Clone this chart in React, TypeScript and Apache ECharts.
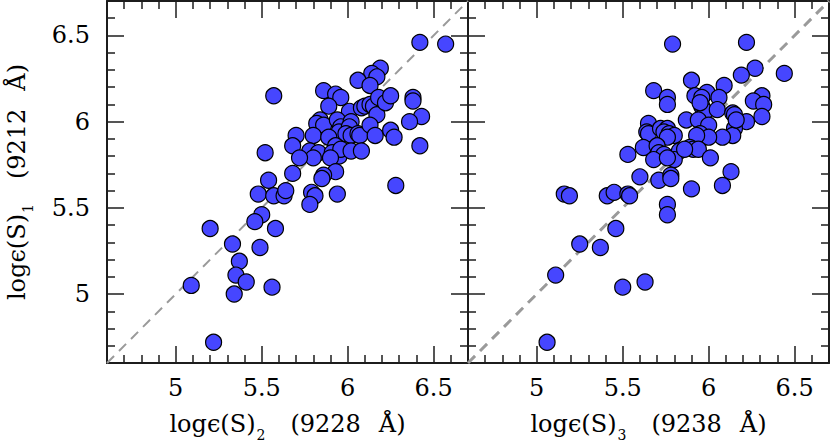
import { useEffect, useRef } from 'react';
import * as echarts from 'echarts';

const axisRange = [4.6, 6.7];
const majorTicks = [5, 5.5, 6, 6.5];
const minorTicks = [4.7, 4.8, 4.9, 5.1, 5.2, 5.3, 5.4, 5.6, 5.7, 5.8, 5.9, 6.1, 6.2, 6.3, 6.4, 6.6];
const identityLine = [4.6, 6.7];

// Left panel: logeps(S)_2 (9228 A) vs logeps(S)_1 (9212 A)
const leftX = [6.42, 6.57, 6.19, 6.14, 6.17, 6.06, 6.13, 5.86, 5.93, 5.96, 5.57, 5.89, 6.01, 6.08, 6.10, 6.13, 6.15, 6.17, 6.18, 6.22, 6.25, 6.38, 6.38, 6.43, 6.36, 6.42, 6.28, 5.84, 5.82, 5.86, 5.94, 5.96, 5.95, 6.02, 6.01, 5.99, 6.02, 6.06, 6.07, 6.13, 6.16, 6.25, 6.27, 5.80, 5.70, 5.68, 5.89, 5.78, 5.83, 5.80, 5.93, 5.91, 5.95, 5.96, 6.02, 6.08, 5.72, 5.90, 5.93, 5.68, 5.86, 5.85, 5.52, 5.54, 5.48, 5.57, 5.63, 5.64, 5.79, 5.81, 5.78, 5.94, 5.50, 5.46, 5.58, 5.20, 5.33, 5.49, 5.37, 5.35, 5.41, 5.09, 5.34, 5.56, 5.22];
const leftY = [6.46, 6.45, 6.31, 6.28, 6.26, 6.24, 6.21, 6.18, 6.16, 6.14, 6.15, 6.09, 6.06, 6.08, 6.09, 6.10, 6.09, 6.04, 6.14, 6.11, 6.15, 6.14, 6.12, 6.03, 6.00, 5.86, 5.63, 6.01, 5.99, 5.98, 6.01, 5.97, 5.94, 6.00, 5.97, 5.93, 5.92, 5.93, 5.92, 5.98, 5.92, 5.95, 5.91, 5.92, 5.92, 5.86, 5.91, 5.83, 5.82, 5.79, 5.86, 5.82, 5.80, 5.84, 5.83, 5.83, 5.79, 5.79, 5.71, 5.70, 5.69, 5.67, 5.82, 5.66, 5.58, 5.57, 5.57, 5.60, 5.59, 5.57, 5.52, 5.58, 5.46, 5.42, 5.38, 5.38, 5.29, 5.27, 5.19, 5.11, 5.07, 5.05, 5.00, 5.04, 4.72];

// Right panel: logeps(S)_3 (9238 A) vs logeps(S)_1 (9212 A)
const rightX = [5.79, 6.22, 6.27, 6.19, 6.44, 5.90, 6.09, 5.68, 5.76, 5.76, 5.92, 5.99, 5.96, 5.96, 5.98, 6.06, 6.05, 6.31, 6.26, 6.32, 6.31, 6.14, 6.15, 6.22, 6.15, 6.14, 6.08, 5.87, 5.94, 6.00, 5.95, 6.00, 5.93, 5.65, 5.64, 5.65, 5.72, 5.76, 5.74, 5.77, 5.80, 5.76, 5.62, 5.70, 5.71, 5.74, 5.68, 5.83, 5.89, 5.91, 5.94, 5.80, 6.01, 5.53, 5.60, 5.71, 5.78, 5.78, 6.13, 5.90, 6.08, 5.16, 5.19, 5.41, 5.45, 5.53, 5.54, 5.76, 5.76, 5.46, 5.25, 5.37, 5.11, 5.50, 5.63, 5.06, 5.95, 6.16, 5.76, 5.86];
const rightY = [6.45, 6.46, 6.31, 6.27, 6.28, 6.24, 6.21, 6.18, 6.14, 6.10, 6.15, 6.17, 6.14, 6.09, 6.06, 6.14, 6.07, 6.15, 6.12, 6.10, 6.03, 6.05, 6.04, 6.00, 5.96, 5.92, 5.91, 6.01, 6.01, 5.98, 5.93, 5.91, 5.92, 5.99, 5.94, 5.93, 5.96, 5.96, 5.94, 5.93, 5.92, 5.91, 5.85, 5.86, 5.82, 5.81, 5.78, 5.83, 5.85, 5.84, 5.84, 5.78, 5.79, 5.81, 5.68, 5.66, 5.69, 5.67, 5.71, 5.61, 5.63, 5.58, 5.57, 5.57, 5.59, 5.58, 5.57, 5.52, 5.46, 5.38, 5.29, 5.27, 5.11, 5.04, 5.07, 4.72, 6.11, 6.01, 5.79, 5.84];

const FONT = 'DejaVu Serif';
const INK = '#1c1c1c';

const titleStyle = {
  fontFamily: FONT,
  fontSize: 24,
  color: '#000',
  lineHeight: 44,
  rich: {
    a: { fontFamily: FONT, fontSize: 24, lineHeight: 44, color: '#000' },
    s: { fontFamily: FONT, fontSize: 14, lineHeight: 14, padding: [22, 0, 0, 1], color: '#000' },
    b: { fontFamily: FONT, fontSize: 24, lineHeight: 44, padding: [0, 0, 0, 25], color: '#000' },
  },
};

function axisSet(gridIndex: number, isX: boolean, name: string | null, showLabels: boolean) {
  const positions = isX ? ['bottom', 'top'] : ['left', 'right'];
  const base = {
    type: 'value',
    gridIndex,
    min: axisRange[0],
    max: axisRange[1],
    splitLine: { show: false },
    minorTick: { show: false },
    axisLine: { show: false, onZero: false },
    axisLabel: { show: false },
    axisTick: { show: false },
    nameMoveOverlap: false,
  };
  const out: any[] = [];
  positions.forEach((p, i) => {
    const major: any = {
      ...base,
      position: p,
      axisLine: { show: true, onZero: false, lineStyle: { color: INK, width: 2 } },
      axisTick: { show: true, inside: true, length: 17, customValues: majorTicks, lineStyle: { color: INK, width: 1.5 } },
    };
    if (i === 0 && showLabels) {
      major.axisLabel = {
        show: true,
        customValues: majorTicks,
        margin: isX ? 13 : 17,
        fontFamily: FONT,
        fontSize: 24,
        color: '#000',
      };
    }
    if (i === 0 && name) {
      major.name = name;
      major.nameLocation = 'middle';
      major.nameGap = isX ? 39 : 68;
      major.nameTextStyle = titleStyle;
    }
    const minor: any = {
      ...base,
      position: p,
      axisTick: { show: true, inside: true, length: 8, customValues: minorTicks, lineStyle: { color: INK, width: 1.5 } },
    };
    out.push(major, minor);
  });
  return out;
}

function panelSeries(idx: number, xs: number[], ys: number[], dashWidth: number) {
  return [
    {
      type: 'line',
      xAxisIndex: idx * 4,
      yAxisIndex: idx * 4,
      data: [[identityLine[0], identityLine[0]], [identityLine[1], identityLine[1]]],
      symbol: 'none',
      lineStyle: { color: '#9a9a9a', width: dashWidth, type: [10, 7] },
      z: 1,
      silent: true,
    },
    {
      type: 'scatter',
      xAxisIndex: idx * 4,
      yAxisIndex: idx * 4,
      data: xs.map((x, i) => [x, ys[i]]),
      symbol: 'circle',
      symbolSize: 16,
      itemStyle: { color: '#4646ff', borderColor: '#000', borderWidth: 1.2, opacity: 1 },
      z: 2,
    },
  ];
}

export default function App() {
  const ref = useRef<HTMLDivElement>(null);
  useEffect(() => {
    if (!ref.current) return;
    const chart = echarts.init(ref.current, null, { renderer: 'svg' });
    chart.setOption({
      animation: false,
      backgroundColor: '#fff',
      grid: [
        { left: 107, top: 1, width: 361, height: 362, outerBoundsMode: 'none', containLabel: false },
        { left: 468, top: 1, width: 361, height: 362, outerBoundsMode: 'none', containLabel: false },
      ],
      xAxis: [
        ...axisSet(0, true, '{a|logϵ(S)}{s|2}{b|(9228\u2002\u2005Å)}', true),
        ...axisSet(1, true, '{a|logϵ(S)}{s|3}{b|(9238\u2002\u2005Å)}', true),
      ],
      yAxis: [
        ...axisSet(0, false, '{a|logϵ(S)}{s|1}{b|(9212\u2002\u2005Å)}', true),
        ...axisSet(1, false, null, false),
      ],
      series: [...panelSeries(0, leftX, leftY, 2), ...panelSeries(1, rightX, rightY, 3)],
    });
    return () => chart.dispose();
  }, []);
  return <div ref={ref} style={{ position: 'absolute', left: 0, top: 0, width: 830, height: 446 }} />;
}
